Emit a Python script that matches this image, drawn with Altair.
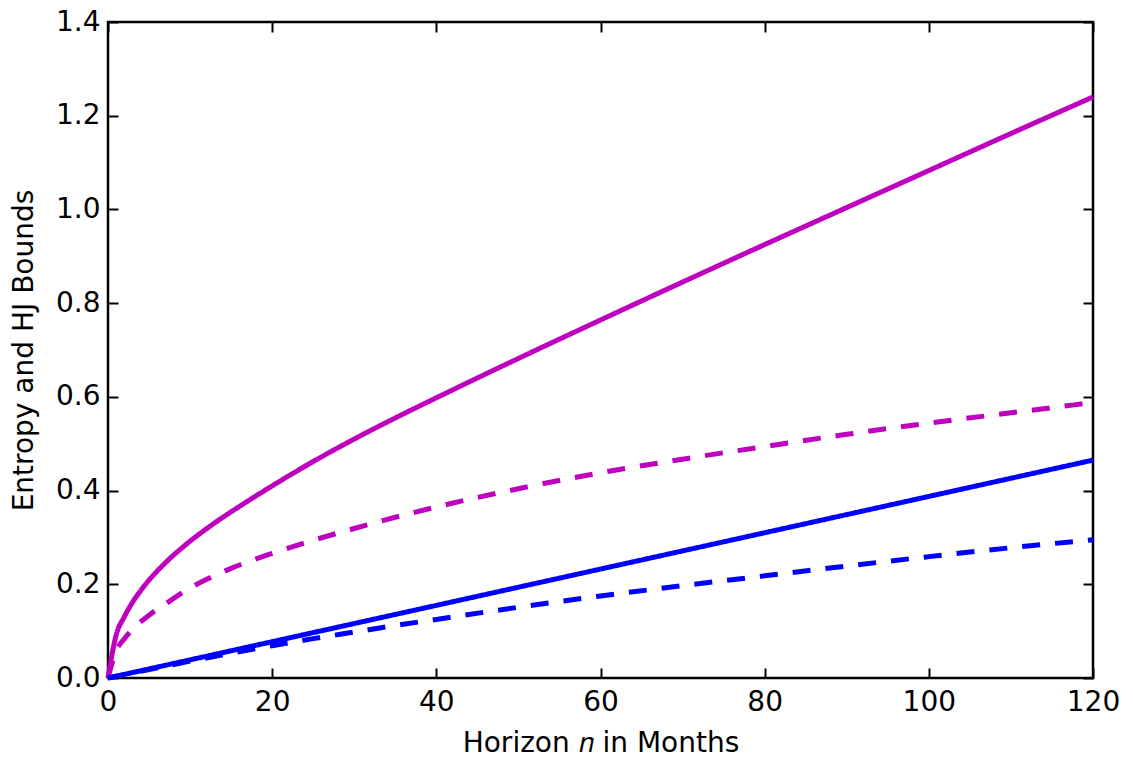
import altair as alt
import pandas as pd

# Horizon n (months) and values
ms_n = [0, 1, 2, 3, 4, 5, 7, 10, 13, 16, 20, 25, 30, 35, 40, 50, 60, 70, 80, 90, 100, 110, 120]
ms_v = [0, 0.092, 0.131, 0.162, 0.187, 0.209, 0.246, 0.292, 0.331, 0.366, 0.410, 0.462,
        0.510, 0.555, 0.598, 0.682, 0.764, 0.845, 0.925, 1.004, 1.083, 1.162, 1.240]

md_n = [0, 1, 2, 3, 5, 7, 10, 15, 20, 25, 30, 35, 40, 50, 60, 70, 80, 90, 100, 110, 120]
md_v = [0, 0.058, 0.084, 0.104, 0.134, 0.158, 0.192, 0.234, 0.266, 0.294, 0.319, 0.343,
        0.365, 0.404, 0.438, 0.467, 0.494, 0.520, 0.544, 0.566, 0.588]

bs_n = [0, 20, 40, 60, 80, 100, 120]
bs_v = [0, 0.0775, 0.155, 0.2325, 0.31, 0.3875, 0.465]

bd_n = [0, 5, 10, 15, 20, 25, 30, 35, 40, 50, 60, 70, 80, 90, 100, 110, 120]
bd_v = [0, 0.018, 0.036, 0.053, 0.069, 0.084, 0.098, 0.112, 0.125, 0.151, 0.175,
        0.197, 0.218, 0.239, 0.259, 0.278, 0.295]

series_names = ["HJ bound, magenta", "Entropy bound, magenta", "HJ bound, blue", "Entropy bound, blue"]
series_colors = ["#bf00bf", "#bf00bf", "#0000ff", "#0000ff"]
series_dash = [[1, 0], [18, 15], [1, 0], [18, 15]]

x_ticks = [0, 20, 40, 60, 80, 100, 120]
y_ticks = [0.0, 0.2, 0.4, 0.6, 0.8, 1.0, 1.2, 1.4]

rows = []
for name, ns, vs in zip(series_names, [ms_n, md_n, bs_n, bd_n], [ms_v, md_v, bs_v, bd_v]):
    for i, (n, v) in enumerate(zip(ns, vs)):
        rows.append({"series": name, "n": n, "v": v, "order": i})
df = pd.DataFrame(rows)

FONT = "DejaVu Sans"
LFS = 28
TFS = 28

xscale = alt.Scale(domain=[0, 120], nice=False, zero=False)
yscale = alt.Scale(domain=[0, 1.4], nice=False, zero=False)

lines = alt.Chart(df).mark_line(strokeWidth=5, interpolate="monotone").encode(
    x=alt.X("n:Q", scale=xscale,
            axis=alt.Axis(orient="bottom", values=x_ticks, format="d", title="Horizon 𝑛 in Months",
                          offset=-10, tickSize=10, tickWidth=2, tickColor="black",
                          domain=False, grid=False, labelPadding=10, labelFlush=False,
                          labelFont=FONT, labelFontSize=LFS, labelColor="black",
                          titleFont=FONT, titleFontSize=TFS, titleFontWeight="normal",
                          titleColor="black", titlePadding=13)),
    y=alt.Y("v:Q", scale=yscale,
            axis=alt.Axis(orient="left", values=y_ticks, format=".1f", title="Entropy and HJ Bounds",
                          offset=-10, tickSize=10, tickWidth=2, tickColor="black",
                          domain=False, grid=False, labelPadding=8, labelFlush=False,
                          labelFont=FONT, labelFontSize=LFS, labelColor="black",
                          titleFont=FONT, titleFontSize=TFS, titleFontWeight="normal",
                          titleColor="black", titlePadding=17)),
    color=alt.Color("series:N", scale=alt.Scale(domain=series_names, range=series_colors), legend=None),
    strokeDash=alt.StrokeDash("series:N", scale=alt.Scale(domain=series_names, range=series_dash), legend=None),
    detail="series:N",
    order="order:Q",
)

mirror = alt.Chart(df).mark_line(opacity=0).encode(
    x=alt.X("n:Q", scale=xscale,
            axis=alt.Axis(orient="top", values=x_ticks, labels=False, title=None,
                          offset=-10, tickSize=10, tickWidth=2, tickColor="black",
                          domain=False, grid=False)),
    y=alt.Y("v:Q", scale=yscale,
            axis=alt.Axis(orient="right", values=y_ticks, labels=False, title=None,
                          offset=-10, tickSize=10, tickWidth=2, tickColor="black",
                          domain=False, grid=False)),
    detail="series:N",
)

chart = alt.layer(lines, mirror).resolve_axis(x="independent", y="independent").properties(
    width=985, height=656,
    autosize=alt.AutoSizeParams(type="none"),
    padding={"left": 100, "top": 14, "right": 30, "bottom": 82},
    background="white",
).configure_view(stroke="black", strokeWidth=2.5)

chart.save("out.html", embed_options={"renderer": "svg", "actions": False})
